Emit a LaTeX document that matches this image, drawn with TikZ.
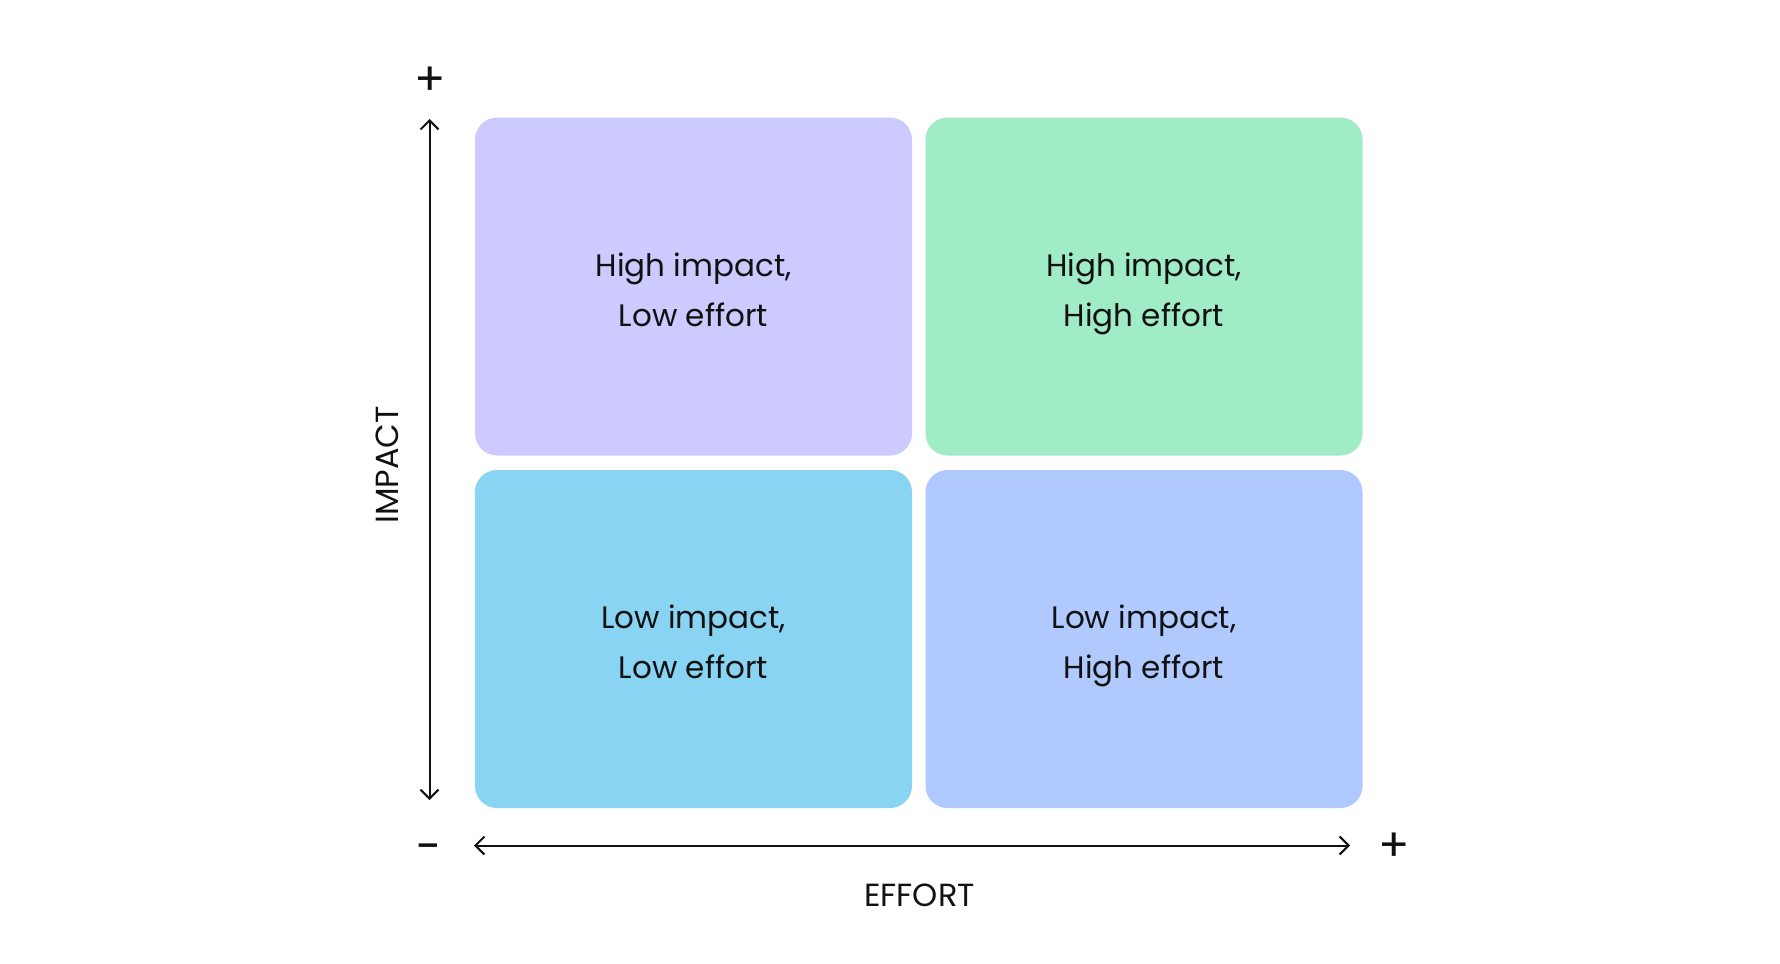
\documentclass[tikz,border=0pt]{standalone}
\usepackage{fontspec}
\setmainfont{Poppins}
\usepackage{tikz}
\usetikzlibrary{arrows.meta, positioning}
\usepackage{xcolor}
\definecolor{quadpurple}{RGB}{204, 202, 255}
\definecolor{quadgreen}{RGB}{160, 236, 199}
\definecolor{quadcyan}{RGB}{137, 212, 242}
\definecolor{quadblue}{RGB}{176, 202, 255}
\definecolor{inkdark}{RGB}{17, 17, 17}
\newcommand{\toprow}{\rule{0pt}{22pt}}

\tikzset{
  quadbox/.style={rounded corners=11pt, minimum width=218.5pt, minimum height=169pt,
    inner sep=0pt, align=center, text=inkdark,
    font=\fontsize{15.5pt}{25pt}\selectfont},
  axisarrow/.style={{Straight Barb[length=4.5pt,width=9pt]}-{Straight Barb[length=4.5pt,width=9pt]},
    line width=1pt, inkdark},
  axislabel/.style={text=inkdark, font=\fontsize{16pt}{18pt}\selectfont},
  signlabel/.style={text=inkdark, font=\fontsize{23pt}{25pt}\selectfont, inner sep=0pt}
}

\begin{document}
\begin{tikzpicture}[x=0.5pt, y=-0.5pt]
  \useasboundingbox (0,0) rectangle (1780,963);

  %--- quadrants ---
  \node[quadbox, fill=quadpurple] (hilo) at (693.5,286.5) {\toprow High impact,\\\strut Low effort};
  \node[quadbox, fill=quadgreen]  (hihi) at (1144,286.5)  {\toprow High impact,\\\strut High effort};
  \node[quadbox, fill=quadcyan]   (lolo) at (693.5,639)   {\toprow Low impact,\\\strut Low effort};
  \node[quadbox, fill=quadblue]   (lohi) at (1144,639)    {\toprow Low impact,\\\strut High effort};

  %--- impact axis ---
  \coordinate (ytop) at (429.5,119);
  \coordinate (ybot) at (429.5,800);
  \draw[axisarrow] (ybot) -- (ytop);
  \node[signlabel] (yplus) at (430,81) {+};
  \node[axislabel, rotate=90] (ylab) at (387,465) {IMPACT};

  %--- effort axis ---
  \coordinate (xleft) at (474,845.5);
  \coordinate (xright) at (1350,845.5);
  \draw[axisarrow] (xleft) -- (xright);
  \node[signlabel] (xminus) at (429,853) {-};
  \node[signlabel] (xplus) at (1394,847.5) {+};
  \node[axislabel] (xlab) at (919.5,895.5) {EFFORT};
\end{tikzpicture}
\end{document}
